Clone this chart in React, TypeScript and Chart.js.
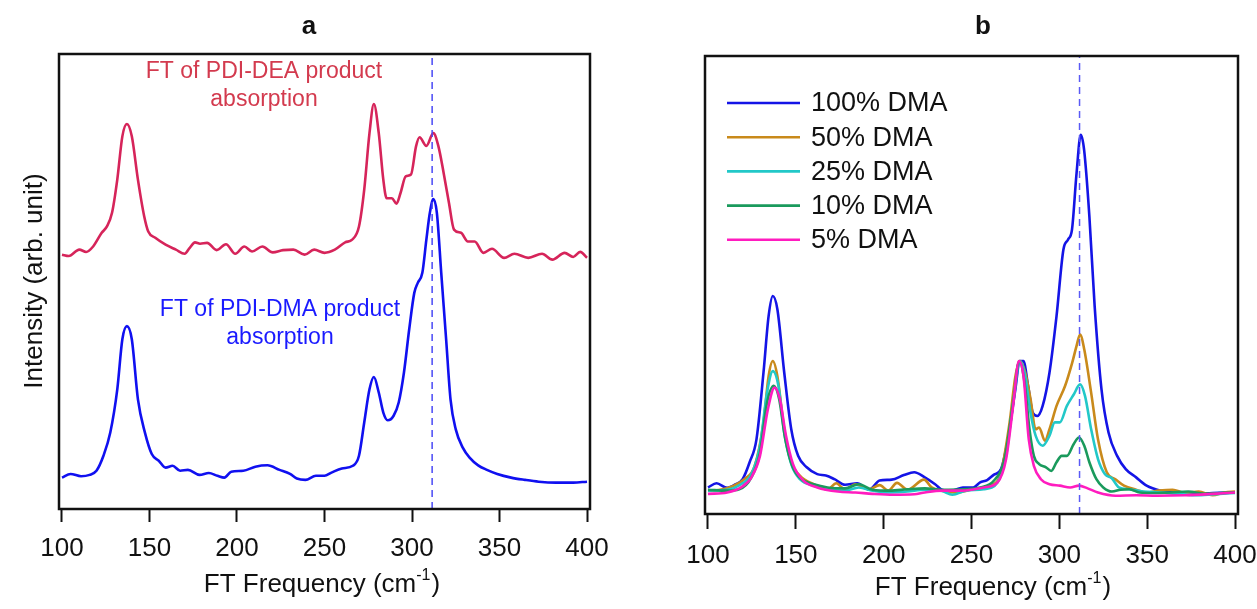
import React, { useEffect, useRef } from "react";
import { Chart, registerables } from "chart.js";
Chart.register(...registerables);

const FONT = '"Liberation Sans", Arial, Helvetica, sans-serif';

// ---------- Panel a ----------
const deaX = [100,103.9,109.9,113.8,117.8,122.7,125.7,128.6,131.6,134.5,137.1,139.9,143.4,147,149.3,153.3,159.2,165.1,170.1,173,176,178.9,182.9,188.4,193.7,199,204.2,208.6,214.5,220.4,226.3,232.2,238.6,244.1,250,255.9,261.8,265.8,269.7,272.7,275.7,278.2,281,283.6,285.5,288.5,291.1,293.4,296.4,299.4,302.3,304.3,308.2,312.2,315.1,318.1,321.1,324,328,331.9,335.8,340.8,345.7,352.6,358.5,366.4,374.3,380.2,387.2,392.1,396.1,400];
const deaY = [55.9,55.6,57.0,56.5,57.7,60.7,62.1,65.1,72.4,81.9,84.6,81.9,72.4,64.3,61.0,59.6,58.1,57.0,56.1,57.4,58.6,58.3,58.5,56.9,58.2,56.1,57.7,56.6,57.7,56.4,56.9,57.0,55.9,57.0,56.3,57.0,58.6,59.2,62.1,70.2,82.6,89.0,82.6,72.4,68.3,68.3,67.1,69.4,73.1,73.5,79.7,81.7,79.8,82.6,79.7,73.8,67.3,61.4,60.7,58.8,58.8,56.3,57.2,55.2,56.1,55.2,56.1,54.8,56.3,55.4,56.5,55.2];

const dmaX = [100,104.9,110.9,115.8,119.7,123.7,127.6,131.6,134.5,137.1,139.9,143.4,147.4,151.3,155.3,159.2,163.2,167.5,172,178.6,183.9,188.8,192.8,196.7,203.6,210.5,217.4,224.3,230.3,234.2,239.1,245.1,250,254,259.9,266.2,269.7,272.7,275.7,278.2,281,283.6,286.1,289.5,292.4,295.4,298.4,301.3,303.3,305.9,308.2,310.2,312.2,314.2,316.7,319.5,322,325,329,332.9,337.8,342.8,348.7,356.6,364.5,372.4,382.2,392.1,400];
const dmaY = [6.9,7.7,7.2,7.5,8.4,11.7,16.8,26.3,37.3,40.2,37.3,24.1,16.8,12.1,10.6,9.1,9.5,8.4,8.6,7.5,7.9,7.3,6.9,8.2,8.4,9.3,9.6,8.6,7.7,6.7,6.4,7.3,7.3,8.0,8.9,9.5,11.7,19.0,26.3,29.0,25.6,21.2,19.5,20.5,23.4,30.0,39.5,47.5,49.7,51.9,59.2,65.1,68.1,65.1,51.9,37.3,24.1,17.5,13.5,11.3,9.6,8.6,7.7,6.9,6.4,6.0,5.8,5.8,6.0];

// ---------- Panel b ----------
const b100X = [100,104.9,110.9,115.8,119.7,123.7,127.6,131.6,134.5,136.9,139.5,143.4,147.4,151.3,156.2,162.2,167.1,172,178,184.9,191.8,197.7,204.6,211.5,217.4,223.4,229.3,233.2,239.1,245.1,251,254.9,258.9,262.8,266.8,270.7,274.7,277.6,279.6,282.2,284.9,287.5,290.5,294.4,298.4,302.3,304.9,307.2,309.8,312.2,314.1,317.1,320.1,324,328,332.9,337.8,343.7,349.7,357.6,367.4,377.3,387.2,400];
const b100Y = [5.8,6.7,5.7,6.5,7.6,11.3,16.3,30.9,43.2,47.6,44.7,30.9,18.5,12.7,10.2,8.7,8.4,7.6,6.4,6.7,5.3,7.3,7.5,8.5,9.1,8.0,6.5,5.3,5.1,5.8,5.8,6.9,7.4,8.6,9.8,16.3,26.5,33.4,33.4,28.0,22.1,21.4,23.6,30.9,43.2,57.7,59.9,62.1,74.4,82.8,79.5,65.0,45.4,27.2,17.8,12.7,9.8,8.0,6.2,5.1,4.6,4.4,4.6,4.7];

const b50X = [100,106.9,114.8,120.7,126.6,131.6,134.5,136.9,139.5,143.4,147.4,152.3,160.2,168.1,173,178,183.9,191.8,197.7,202.6,207.6,213.5,223,227.3,233.2,241.1,251,260.9,266.8,271.7,275,277.6,280.6,283.6,286.5,288.5,291.8,294.4,298.4,303.3,307.3,309.8,311.8,314.2,318.1,322,327,331.9,336.8,343.7,349.7,356.6,364.5,371.4,379.3,387.2,394.1,400];
const b50Y = [5.1,5.3,6.2,7.6,10.5,20.0,30.1,33.4,30.1,18.5,11.3,8.4,6.5,5.4,6.7,5.4,6.5,5.4,6.3,5.1,6.8,5.3,7.5,5.8,5.1,4.7,5.4,6.2,9.1,20.0,30.1,33.4,30.9,25.1,18.5,18.9,16.0,18.5,23.6,28.0,33.0,36.7,39.2,35.9,26.5,16.3,9.1,7.6,6.2,5.3,4.7,5.1,5.3,4.6,4.9,4.1,4.7,4.9];

const b25X = [100,110.9,118.8,124.7,129.6,133.6,136.9,140.1,143.4,147.4,152.3,160.2,168.1,178,185.9,193.7,203.6,213.5,223.4,233.2,239.1,247,256.9,264.8,269.7,273.7,277.6,280.6,283.6,286.5,290.5,294.4,297.4,300.3,304.3,308.2,311.8,314.6,318.1,322,326,329.9,333.9,339.8,347.7,357.6,367.4,379.3,391.2,400];
const b25Y = [5.1,5.3,6.5,8.7,14.9,26.5,31.2,28.0,17.8,10.9,7.6,6.2,5.4,5.1,5.8,5.1,4.7,4.9,5.3,5.0,4.2,5.1,5.4,6.9,12.7,24.3,33.4,30.1,22.1,17.1,14.9,17.1,20.0,20.0,23.6,26.1,28.3,25.8,18.5,12.0,8.7,7.8,5.8,5.4,4.9,4.7,4.4,4.1,4.4,4.6];

const b10X = [100,110.9,117.8,124.7,129.6,133.6,137.5,140.5,144,148,153.3,160.2,168.1,178,185.9,193.7,203.6,213.5,223.4,233.2,245.1,254.9,262.8,268.8,273.7,277.2,280.2,283,285.5,288.5,292.4,295.4,298.4,301.3,304.3,308.2,311.2,314.2,317.1,321.1,325,329.9,334.9,339.8,345.7,353.6,363.5,373.4,383.2,391.2,400];
const b10Y = [5.3,5.1,5.4,8.0,13.4,24.3,28.0,25.1,16.3,10.5,7.6,6.5,5.8,5.6,6.5,5.3,5.1,5.4,5.6,5.3,5.4,5.8,7.3,12.0,24.3,33.4,28.7,18.5,12.7,10.9,10.2,9.4,11.3,12.7,12.7,15.3,16.7,14.9,11.3,7.6,5.8,4.9,5.3,5.4,4.7,4.6,4.7,4.9,4.4,4.6,4.7];

const b5X = [100,110.9,118.8,124.7,129.6,134.1,137.9,140.9,144.4,148.4,154.3,162.2,174,183.9,193.7,205.6,217.4,223.4,233.2,245.1,256.9,264.8,269.7,273.7,277,279.6,282.6,285.5,289.5,294.4,300.3,306.2,311.2,316.1,322,331.9,343.7,355.6,371.4,387.2,400];
const b5Y = [4.4,4.7,5.8,8.0,12.7,22.9,27.6,25.1,17.1,10.9,7.3,5.8,4.9,4.7,4.4,4.2,4.3,4.7,5.1,5.1,5.8,6.9,12.0,23.6,33.4,30.1,16.3,10.5,7.6,6.5,6.2,5.8,6.2,5.6,4.7,4.0,4.1,4.0,4.1,4.4,4.7];

// ---------- Shared ----------
const xTickValues = [100, 150, 200, 250, 300, 350, 400];
const markerX = 311.5;
const legendLabels = ["100% DMA", "50% DMA", "25% DMA", "10% DMA", "5% DMA"];
const legendColors = ["#1414e6", "#c98a1b", "#22c8c8", "#1a9a5c", "#ff1cbf"];
const panelTitles = ["a", "b"];
const xAxisTitle = ["FT Frequency (cm", "-1", ")"];
const yAxisTitle = "Intensity (arb. unit)";
const deaNote = ["FT of PDI-DEA product", "absorption"];
const dmaNote = ["FT of PDI-DMA product", "absorption"];

const pts = (xs: number[], ys: number[]) => xs.map((x, i) => ({ x, y: ys[i] }));

function drawXTitle(ctx: CanvasRenderingContext2D, cx: number, cy: number) {
  ctx.save();
  ctx.fillStyle = "#111";
  ctx.textBaseline = "middle";
  ctx.textAlign = "left";
  const big = `26px ${FONT}`;
  const small = `16px ${FONT}`;
  ctx.font = big;
  const w1 = ctx.measureText(xAxisTitle[0]).width;
  const w3 = ctx.measureText(xAxisTitle[2]).width;
  ctx.font = small;
  const w2 = ctx.measureText(xAxisTitle[1]).width;
  let x = cx - (w1 + w2 + w3 + 1) / 2;
  ctx.font = big;
  ctx.fillText(xAxisTitle[0], x, cy);
  x += w1;
  ctx.font = small;
  ctx.fillText(xAxisTitle[1], x, cy - 9);
  x += w2 + 1;
  ctx.font = big;
  ctx.fillText(xAxisTitle[2], x, cy);
  ctx.restore();
}

function frame(ctx: CanvasRenderingContext2D, ca: any) {
  ctx.save();
  ctx.strokeStyle = "#111";
  ctx.lineWidth = 2.5;
  ctx.strokeRect(ca.left, ca.top, ca.right - ca.left, ca.bottom - ca.top);
  ctx.restore();
}

function baseOptions(pad: { left: number; right: number; top: number }, xHeight: number, tickLen: number, extra: any) {
  return {
    responsive: false,
    animation: false as const,
    devicePixelRatio: 1,
    layout: { padding: { left: pad.left, right: pad.right, top: pad.top, bottom: 0 } },
    plugins: { legend: { display: false }, title: { display: false }, tooltip: { enabled: false } },
    elements: { point: { radius: 0 } },
    scales: {
      x: {
        type: "linear" as const,
        min: 98.3,
        max: 401.7,
        afterBuildTicks: (s: any) => {
          s.ticks = xTickValues.map((v) => ({ value: v }));
        },
        afterFit: (s: any) => {
          s.height = xHeight;
          s.paddingLeft = 0;
          s.paddingRight = 0;
        },
        border: { display: false },
        grid: {
          display: true,
          drawOnChartArea: false,
          drawTicks: true,
          tickLength: tickLen,
          tickWidth: 2,
          tickColor: "#111",
          color: "#111",
        },
        ticks: {
          font: { size: 26, family: FONT },
          color: "#111",
          padding: 24 - tickLen + (tickLen > 13 ? 2 : 0),
          maxRotation: 0,
          autoSkip: false,
          callback: (v: any) => String(v),
        },
      },
      y: { type: "linear" as const, min: 0, max: 100, display: false },
    },
    ...extra,
  };
}

function PanelA() {
  const ref = useRef<HTMLCanvasElement>(null);
  useEffect(() => {
    const textPlugin = {
      id: "panelAText",
      afterDraw(chart: any) {
        const ctx = chart.ctx as CanvasRenderingContext2D;
        frame(ctx, chart.chartArea);
        ctx.save();
        ctx.textAlign = "center";
        ctx.textBaseline = "middle";
        ctx.fillStyle = "#111";
        ctx.font = `bold 26px ${FONT}`;
        ctx.fillText(panelTitles[0], 309, 27);
        ctx.font = `23px ${FONT}`;
        ctx.fillStyle = "#d33a4e";
        ctx.fillText(deaNote[0], 264, 72);
        ctx.fillText(deaNote[1], 264, 100);
        ctx.fillStyle = "#1a1aff";
        ctx.fillText(dmaNote[0], 280, 310);
        ctx.fillText(dmaNote[1], 280, 338);
        ctx.fillStyle = "#111";
        ctx.font = `26px ${FONT}`;
        ctx.translate(35, 281);
        ctx.rotate(-Math.PI / 2);
        ctx.fillText(yAxisTitle, 0, 0);
        ctx.restore();
        drawXTitle(ctx, 322, 585);
      },
    };
    const chart = new Chart(ref.current!, {
      type: "line",
      data: {
        datasets: [
          {
            data: [{ x: markerX, y: 0 }, { x: markerX, y: 100 }],
            borderColor: "#4a4af5",
            borderWidth: 1.5,
            borderDash: [7, 5],
            tension: 0,
            order: 0,
          },
          {
            data: pts(dmaX, dmaY),
            borderColor: "#1010f0",
            borderWidth: 2.6,
            cubicInterpolationMode: "monotone",
            order: 1,
          },
          {
            data: pts(deaX, deaY),
            borderColor: "#d6245a",
            borderWidth: 2.6,
            cubicInterpolationMode: "monotone",
            order: 2,
          },
        ],
      },
      options: baseOptions({ left: 59, right: 40, top: 54 }, 100, 13, {}) as any,
      plugins: [textPlugin],
    });
    return () => chart.destroy();
  }, []);
  return <canvas ref={ref} width={630} height={609} style={{ position: "absolute", left: 0, top: 0 }} />;
}

function PanelB() {
  const ref = useRef<HTMLCanvasElement>(null);
  useEffect(() => {
    const textPlugin = {
      id: "panelBText",
      afterDraw(chart: any) {
        const ctx = chart.ctx as CanvasRenderingContext2D;
        frame(ctx, chart.chartArea);
        ctx.save();
        ctx.textAlign = "center";
        ctx.textBaseline = "middle";
        ctx.fillStyle = "#111";
        ctx.font = `bold 26px ${FONT}`;
        ctx.fillText(panelTitles[1], 343, 27);
        // legend
        ctx.textAlign = "left";
        ctx.font = `27px ${FONT}`;
        legendLabels.forEach((lab, i) => {
          const y = 103 + i * 34.2;
          ctx.strokeStyle = legendColors[i];
          ctx.lineWidth = 2.6;
          ctx.beginPath();
          ctx.moveTo(87, y);
          ctx.lineTo(160, y);
          ctx.stroke();
          ctx.fillStyle = "#111";
          ctx.fillText(lab, 171, y + 1);
        });
        ctx.restore();
        drawXTitle(ctx, 353, 588);
      },
    };
    const series = [
      [b100X, b100Y],
      [b50X, b50Y],
      [b25X, b25Y],
      [b10X, b10Y],
      [b5X, b5Y],
    ];
    const datasets: any[] = [
      {
        data: [{ x: markerX, y: 0 }, { x: markerX, y: 100 }],
        borderColor: "#5a5af5",
        borderWidth: 1.5,
        borderDash: [7, 5],
        tension: 0,
        order: 0,
      },
    ];
    series.forEach(([xs, ys], i) => {
      datasets.push({
        label: legendLabels[i],
        data: pts(xs, ys),
        borderColor: legendColors[i],
        borderWidth: 2.6,
        cubicInterpolationMode: "monotone",
        order: 5 - i,
      });
    });
    const chart = new Chart(ref.current!, {
      type: "line",
      data: { datasets },
      options: baseOptions({ left: 65, right: 19, top: 56 }, 95, 15, {}) as any,
      plugins: [textPlugin],
    });
    return () => chart.destroy();
  }, []);
  return <canvas ref={ref} width={617} height={609} style={{ position: "absolute", left: 640, top: 0 }} />;
}

export default function App() {
  return (
    <div style={{ position: "fixed", left: 0, top: 0, width: 1257, height: 609, background: "#fff", overflow: "hidden" }}>
      <PanelA />
      <PanelB />
    </div>
  );
}
